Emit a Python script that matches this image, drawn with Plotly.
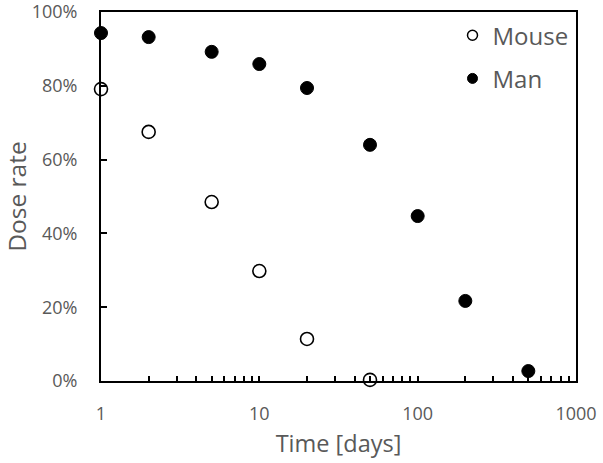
import plotly.graph_objects as go

days_mouse = [1, 2, 5, 10, 20, 50]
rate_mouse = [0.791, 0.675, 0.485, 0.298, 0.114, 0.003]
days_man = [1, 2, 5, 10, 20, 50, 100, 200, 500]
rate_man = [0.943, 0.932, 0.892, 0.859, 0.794, 0.640, 0.447, 0.217, 0.027]

xtickvals = []
xticktext = []
for d in [1, 10, 100]:
    for m in range(1, 10):
        xtickvals.append(d * m)
        xticktext.append(str(d) if m == 1 else "")
xtickvals.append(1000)
xticktext.append("1000")

yticks = [0, 0.2, 0.4, 0.6, 0.8, 1.0]

gray = "#595959"
font_family = "'Open Sans', sans-serif"

fig = go.Figure()
fig.add_trace(go.Scatter(
    x=days_mouse, y=rate_mouse, mode="markers", name="Mouse", showlegend=False,
    marker=dict(symbol="circle", size=13, color="white", line=dict(color="black", width=1.6)),
    cliponaxis=False,
))
fig.add_trace(go.Scatter(
    x=days_man, y=rate_man, mode="markers", name="Man", showlegend=False,
    marker=dict(symbol="circle", size=13, color="black", line=dict(color="black", width=1)),
    cliponaxis=False,
))
# legend entries (smaller symbols as in the reference)
fig.add_trace(go.Scatter(
    x=[None], y=[None], mode="markers", name="Mouse", legendgroup="a",
    marker=dict(symbol="circle", size=10, color="white", line=dict(color="black", width=1.5)),
))
fig.add_trace(go.Scatter(
    x=[None], y=[None], mode="markers", name="Man", legendgroup="b",
    marker=dict(symbol="circle", size=10, color="black", line=dict(color="black", width=1)),
))

fig.update_layout(
    width=603, height=463,
    margin=dict(l=101, r=27, t=12, b=82),
    plot_bgcolor="white", paper_bgcolor="white",
    font=dict(family=font_family, color=gray, size=18),
    legend=dict(x=0.74, y=0.997, xanchor="left", yanchor="top",
                font=dict(size=24, color=gray), bgcolor="rgba(0,0,0,0)",
                tracegroupgap=9, itemwidth=30),
    showlegend=True,
)
fig.update_xaxes(
    type="log", range=[0, 3], automargin=False,
    tickvals=xtickvals, ticktext=xticktext,
    ticks="inside", ticklen=5, tickwidth=1.5, tickcolor="black",
    showline=True, linecolor="black", linewidth=2, mirror=True,
    showgrid=False, zeroline=False,
    tickfont=dict(size=18, color=gray), ticklabelstandoff=15,
    ticklabeloverflow="allow",
    title=dict(text="Time [days]", font=dict(size=23.5, color=gray), standoff=12),
)
fig.update_yaxes(
    range=[0, 1], tickvals=yticks, tickformat=".0%", automargin=False,
    ticks="inside", ticklen=6, tickwidth=1.5, tickcolor="black",
    showline=True, linecolor="black", linewidth=2, mirror=True,
    showgrid=False, zeroline=False,
    tickfont=dict(size=18, color=gray), ticklabelstandoff=18,
    ticklabeloverflow="allow",
    title=dict(text="Dose rate", font=dict(size=24.5, color=gray), standoff=23),
)

fig.write_html("out.html", config={"displayModeBar": False},
               post_script="document.body.style.margin='0';document.body.style.overflow='hidden';")
